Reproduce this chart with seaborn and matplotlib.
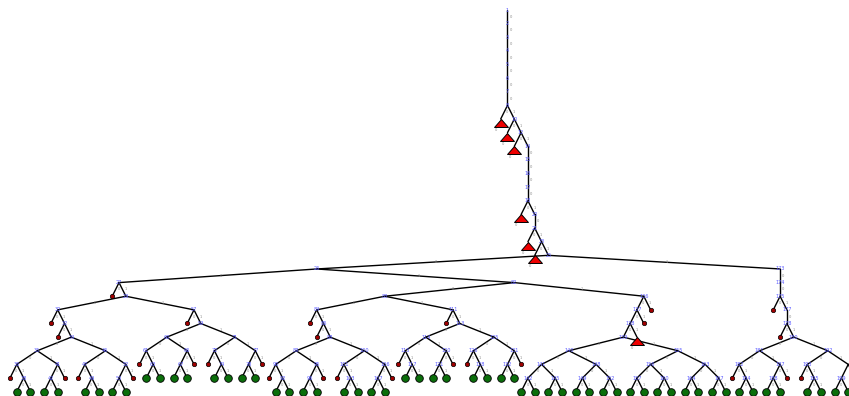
import numpy as np
import pandas as pd
import matplotlib.pyplot as plt
import seaborn as sns

# tree shape, leaves: G = solved (green), R = dead end (red dot), T = collapsed subtree (triangle)
pair = ['G', 'G']
hook_l = ['R', pair]
hook_r = [pair, 'R']
cross = [hook_l, hook_r]
quad = [[pair, pair], [pair, pair]]
long_arm = ['R', ['R', [cross, cross]]]
short_arm = ['R', [cross, cross]]
fork = [long_arm, short_arm]
side = [[[[quad, quad], 'T'], 'R'], 'R']
left_half = [['R', fork], [fork, side]]
right_half = [[['R', [['R', [cross, cross]]]]]]
# ancestors of the big split, bottom-up: 'T' = a collapsed sibling on the left, '|' = single child
spine_steps = ['T', 'T', '|', 'T', '|', '|', '|', '|', 'T', 'T', 'T',
               '|', '|', '|', '|', '|', '|', '|']

tree = [left_half, right_half]
for s in spine_steps:
    tree = ['T', tree] if s == 'T' else [tree]

PX = 13.63         # pixels per layout unit
W, H = 849, 396


def build(spec, depth=0):
    if isinstance(spec, str):
        return {'kind': spec, 'depth': depth, 'children': []}
    return {'kind': 'N', 'depth': depth,
            'children': [build(c, depth + 1) for c in spec]}


def layout(node):
    # simple tidy tree: subtrees packed one unit apart, parent over first/last child
    if not node['children']:
        return {node['depth']: (0.0, 0.0)}
    conts = [layout(c) for c in node['children']]
    offs = [0.0]
    merged = dict(conts[0])
    for c in conts[1:]:
        shift = max(merged[d][1] - c[d][0] + 1 for d in c if d in merged)
        offs.append(shift)
        for d, (lo, hi) in c.items():
            if d in merged:
                merged[d] = (min(merged[d][0], lo + shift), max(merged[d][1], hi + shift))
            else:
                merged[d] = (lo + shift, hi + shift)
    mid = (offs[0] + offs[-1]) / 2
    for ch, o in zip(node['children'], offs):
        ch['off'] = o - mid
    out = {d: (lo - mid, hi - mid) for d, (lo, hi) in merged.items()}
    out[node['depth']] = (0.0, 0.0)
    return out


def place(node, x, nodes, edges):
    nodes.append({'x': x, 'y': node['depth'], 'kind': node['kind'], 'label': str(len(nodes) + 1)})
    for i, ch in enumerate(node['children']):
        cx = x + ch['off']
        edges.append({'x0': x, 'y0': node['depth'], 'x1': cx, 'y1': ch['depth'], 'lab': str(i)})
        place(ch, cx, nodes, edges)


root = build(tree)
layout(root)
node_rows, edge_rows = [], []
place(root, 0.0, node_rows, edge_rows)
nodes = pd.DataFrame(node_rows)
edges = pd.DataFrame(edge_rows)

xmin = nodes.x.min()
x_lo, x_hi = xmin - 10 / PX, xmin + (W - 10) / PX
text_hi = x_hi - 0.35   # the view cuts the tree at the right edge; skip labels that would be cut

sns.set_theme(style="white")
fig = plt.figure(figsize=(W / 100, H / 100), dpi=100)
ax = fig.add_axes([0, 0, 1, 1])

for e in edges.itertuples():
    ax.plot([e.x0, e.x1], [e.y0, e.y1], color='black', lw=1.0, zorder=1, solid_capstyle='round')
    tx = (e.x0 + e.x1) / 2 + 0.22
    if tx < text_hi:
        ax.text(tx, (e.y0 + e.y1) / 2, e.lab, fontsize=2.6,
                color='#8a8a8a', ha='center', va='center', zorder=4)

tri = np.array([[0, 0], [-1, -1.15], [1, -1.15], [0, 0]])
sns.scatterplot(data=nodes[nodes.kind == 'G'], x='x', y='y', color='#0b6e0b', s=30,
                edgecolor='black', linewidth=0.6, ax=ax, zorder=3, legend=False)
sns.scatterplot(data=nodes[nodes.kind == 'R'], x='x', y='y', color='#a00000', s=10,
                edgecolor='black', linewidth=0.5, ax=ax, zorder=3, legend=False)
sns.scatterplot(data=nodes[nodes.kind == 'T'], x='x', y='y', color='#ee0000', s=132,
                marker=tri, edgecolor='black', linewidth=0.7, ax=ax, zorder=3, legend=False)

inner = nodes[nodes.kind == 'N']
for r in inner.itertuples():
    if r.x < text_hi:
        ax.text(r.x, r.y, r.label, fontsize=3.6, color='#5a5aff', ha='center', va='center', zorder=5)
for r in nodes[nodes.kind == 'T'].itertuples():
    ax.text(r.x - 0.35, r.y + 0.8, '0', fontsize=2.6, color='#8a8a8a', ha='center', va='center', zorder=5)

ax.set_xlim(x_lo, x_hi)
ax.set_ylim((H - 10) / PX, -10 / PX)
ax.axis('off')

fig.savefig('out.png', dpi=100)
